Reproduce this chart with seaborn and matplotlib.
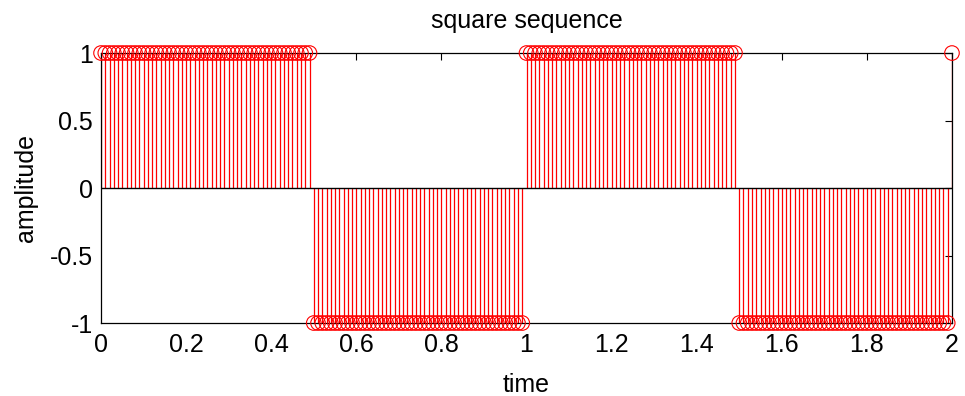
import numpy as np
import matplotlib
matplotlib.use("Agg")
import matplotlib.pyplot as plt
import seaborn as sns
import pandas as pd

# Data: samples every 0.01 from 0 to 2
t_start, t_end, n_samples = 0.0, 2.0, 201
levels = [1, -1, 1, -1, 1]          # square wave levels per segment
run_lengths = [50, 50, 50, 50, 1]    # number of samples in each segment

xticks = [0, 0.2, 0.4, 0.6, 0.8, 1, 1.2, 1.4, 1.6, 1.8, 2]
xticklabels = ["0", "0.2", "0.4", "0.6", "0.8", "1", "1.2", "1.4", "1.6", "1.8", "2"]
yticks = [-1, -0.5, 0, 0.5, 1]
yticklabels = ["-1", "-0.5", "0", "0.5", "1"]

t = np.linspace(t_start, t_end, n_samples)
amp = np.repeat(levels, run_lengths)
df = pd.DataFrame({"time": t, "amplitude": amp})

sns.set_style("white")
plt.rcParams["font.family"] = ["Liberation Sans", "DejaVu Sans"]
plt.rcParams["text.color"] = "black"
plt.rcParams["axes.labelcolor"] = "black"

fig = plt.figure(figsize=(9.65, 3.96), dpi=100)
ax = fig.add_axes([0.1047, 0.1843, 0.8818, 0.6818])

ax.vlines(df["time"], 0, df["amplitude"], color="red", lw=0.9)
ax.axhline(0, color="black", lw=1.0)
sns.scatterplot(data=df, x="time", y="amplitude", ax=ax, marker="o",
                s=110, facecolors="none", edgecolor="red", linewidth=0.8,
                clip_on=False, zorder=5)

ax.set_xlim(0, 2)
ax.set_ylim(-1, 1)
ax.set_xticks(xticks)
ax.set_xticklabels(xticklabels)
ax.set_yticks(yticks)
ax.set_yticklabels(yticklabels)
ax.tick_params(direction="in", length=5, width=0.8, top=True, right=True,
               labelsize=18, colors="black")
ax.tick_params(axis="x", pad=7)
ax.tick_params(axis="y", pad=6)
for s in ax.spines.values():
    s.set_visible(True)
    s.set_color("black")
    s.set_linewidth(0.9)

ax.set_title("square sequence", fontsize=18, pad=18, color="black")
ax.set_xlabel("time", fontsize=18, labelpad=12, color="black")
ax.set_ylabel("amplitude", fontsize=18, labelpad=8, color="black")

fig.savefig("out.png", dpi=100)
